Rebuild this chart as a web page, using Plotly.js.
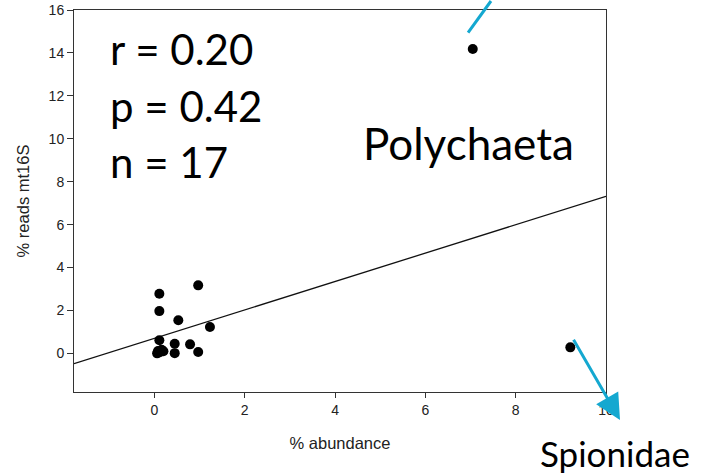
<!DOCTYPE html>
<html>
<head>
<meta charset="utf-8">
<script src="https://cdn.plot.ly/plotly-3.0.1.min.js"></script>
<style>html,body{margin:0;padding:0;background:#fff;}#chart{width:701px;height:473px;}</style>
</head>
<body>
<div id="chart"></div>
<script>
// % abundance (x) and % reads mt16S (y) for the 17 samples
const abundance = [7.05, 9.21, 0.11, 0.11, 0.97, 0.53, 1.23, 0.11, 0.45, 0.79, 0.08, 0.16, 0.45, 0.97, 0.06, 0.12, 0.20];
const readsMt16S = [14.18, 0.28, 2.78, 1.97, 3.17, 1.54, 1.23, 0.61, 0.45, 0.42, 0.11, 0.17, 0.01, 0.06, 0.00, 0.05, 0.10];

// regression line
const fitSlope = 0.662;
const fitIntercept = 0.70;

const xRange = [-1.78, 10];
const yRange = [-1.8, 16];
const xTicks = [0, 2, 4, 6, 8, 10];
const yTicks = [0, 2, 4, 6, 8, 10, 12, 14, 16];

const statLines = ["r = 0.20", "p = 0.42", "n = 17"];
const groupLabel = "Polychaeta";
const familyLabel = "Spionidae";

const fitX = [xRange[0], xRange[1]];
const fitY = fitX.map(v => fitIntercept + fitSlope * v);

const traces = [
  {x: fitX, y: fitY, mode: 'lines', type: 'scatter',
   line: {color: '#111', width: 1.3}, hoverinfo: 'skip', showlegend: false},
  {x: abundance, y: readsMt16S, mode: 'markers', type: 'scatter',
   marker: {color: '#000', size: 10}, showlegend: false}
];

const statFont = {family: 'Lato, Carlito, Calibri, sans-serif', size: 42, color: '#000'};
const statY = [0.8987, 0.7495, 0.6029];
const annotations = statLines.map((t, i) => ({
  text: t, xref: 'paper', yref: 'paper', x: 0.0645, y: statY[i],
  xanchor: 'left', yanchor: 'middle', showarrow: false, font: statFont
}));
annotations.push({text: groupLabel, xref: 'paper', yref: 'paper', x: 0.5402, y: 0.6518,
  xanchor: 'left', yanchor: 'middle', showarrow: false,
  font: {family: 'Lato, Carlito, Calibri, sans-serif', size: 44, color: '#000'}});
annotations.push({text: familyLabel, xref: 'paper', yref: 'paper', x: 0.872, y: -0.159,
  xanchor: 'left', yanchor: 'middle', showarrow: false,
  font: {family: 'Lato, Carlito, Calibri, sans-serif', size: 35, color: '#000'}});
// cyan pointer arrows
annotations.push({text: '', xref: 'paper', yref: 'paper', x: 0.7838, y: 1.0785,
  ax: -24, ay: 54, showarrow: true, arrowhead: 0, arrowwidth: 3, arrowcolor: '#14a8d0', standoff: 0});
annotations.push({text: '', xref: 'paper', yref: 'paper', x: 1.0263, y: -0.0733,
  ax: -47.3, ay: -81.7, showarrow: true, arrowhead: 2, arrowsize: 1.7, arrowwidth: 3,
  arrowcolor: '#14a8d0', standoff: 0});

const axisCommon = {
  showline: true, mirror: true, linecolor: '#333', linewidth: 1,
  ticks: 'outside', tickcolor: '#333', tickwidth: 1,
  showgrid: false, zeroline: false,
  tickfont: {family: 'Liberation Sans, Arial, sans-serif', size: 14, color: '#222'}
};

const titleFont = {family: 'Liberation Sans, Arial, sans-serif', size: 16.5, color: '#222'};

const layout = {
  width: 701, height: 473,
  margin: {l: 74, r: 95, t: 10, b: 81},
  paper_bgcolor: '#fff', plot_bgcolor: '#fff',
  showlegend: false,
  xaxis: Object.assign({}, axisCommon, {
    range: xRange, tickvals: xTicks, ticklen: 5,
    title: {text: '% abundance', font: titleFont, standoff: 20}
  }),
  yaxis: Object.assign({}, axisCommon, {
    range: yRange, tickvals: yTicks, ticklen: 6,
    title: {text: '% reads mt16S', font: titleFont, standoff: 14}
  }),
  annotations: annotations
};

Plotly.newPlot('chart', traces, layout, {displayModeBar: false, staticPlot: true});
</script>
</body>
</html>
